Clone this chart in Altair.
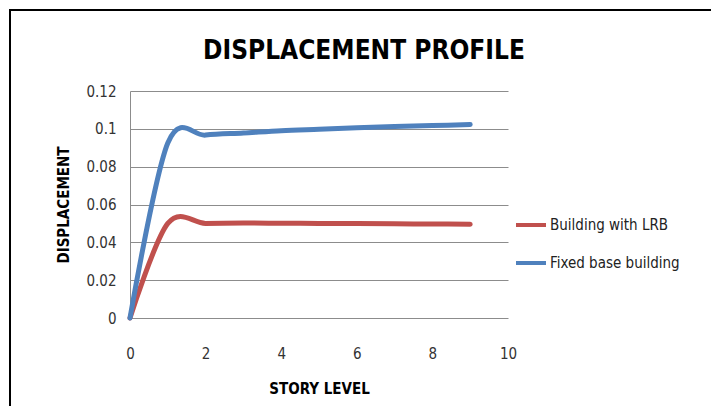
import altair as alt
import pandas as pd

story = [0, 1, 2, 3, 4, 5, 6, 7, 8, 9]
lrb = [0, 0.0500, 0.0500, 0.0502, 0.0501, 0.0500, 0.0499, 0.0498, 0.0497, 0.0496]
fixed = [0, 0.0925, 0.0967, 0.0978, 0.0990, 0.0998, 0.1006, 0.1012, 0.1017, 0.1023]
series = ["Building with LRB", "Fixed base building"]
colors = ["#C0504D", "#4F81BD"]
title_text = "DISPLACEMENT PROFILE"

rows = []
for s, vals in zip(series, [lrb, fixed]):
    for x, v in zip(story, vals):
        rows.append({"story": x, "disp": v, "series": s})
df = pd.DataFrame(rows)

FONT = "Liberation Sans Narrow, DejaVu Sans Condensed, sans-serif"

lines = alt.Chart(df).mark_line(
    interpolate="cardinal", strokeWidth=5, strokeCap="round"
).encode(
    x=alt.X("story:Q", scale=alt.Scale(domain=[0, 10]),
            axis=alt.Axis(values=[0, 2, 4, 6, 8, 10], title="STORY LEVEL", grid=False,
                          domain=False, ticks=False, labelFlush=False,
                          labelPadding=28, titlePadding=20)),
    y=alt.Y("disp:Q", scale=alt.Scale(domain=[0, 0.12]),
            axis=alt.Axis(values=[0, 0.02, 0.04, 0.06, 0.08, 0.1, 0.12], title="DISPLACEMENT",
                          ticks=False, labelPadding=14, titlePadding=14, labelFlush=False,
                          labelExpr="datum.value == 0 ? '0' : format(datum.value, '.2~f')")),
    color=alt.Color("series:N", scale=alt.Scale(domain=series, range=colors),
                    legend=alt.Legend(title=None, orient="none", legendX=384, legendY=117,
                                      symbolType="stroke", symbolStrokeWidth=4,
                                      symbolSize=900, rowPadding=13, labelOffset=2)),
)

title = alt.Chart(alt.Data(values=[{"t": title_text}])).mark_text(
    font=FONT, fontSize=26, fontWeight="bold", color="black", align="center", baseline="middle"
).encode(
    x=alt.value(234), y=alt.value(-40), text="t:N"
)

frame = alt.Chart(alt.Data(values=[{}])).mark_rect(
    fill=None, stroke="black", strokeWidth=2, clip=False
).encode(
    x=alt.value(-120), x2=alt.value(582), y=alt.value(-81), y2=alt.value(340)
)

chart = alt.layer(frame, title, lines).properties(
    width=378, height=227,
    padding={"left": 122, "top": 83, "right": 203, "bottom": 88},
    autosize=alt.AutoSizeParams(type="none"),
).configure_view(stroke=None).configure_axis(
    labelFont=FONT, labelFontSize=15, labelColor="#333333",
    titleFont=FONT, titleFontSize=15, titleFontWeight="bold", titleColor="black",
    gridColor="#8c8c8c", gridWidth=1, domainColor="#8c8c8c",
).configure_legend(labelFont=FONT, labelFontSize=15, labelColor="#222222")

chart.save("out.html", embed_options={"renderer": "svg", "actions": False})
